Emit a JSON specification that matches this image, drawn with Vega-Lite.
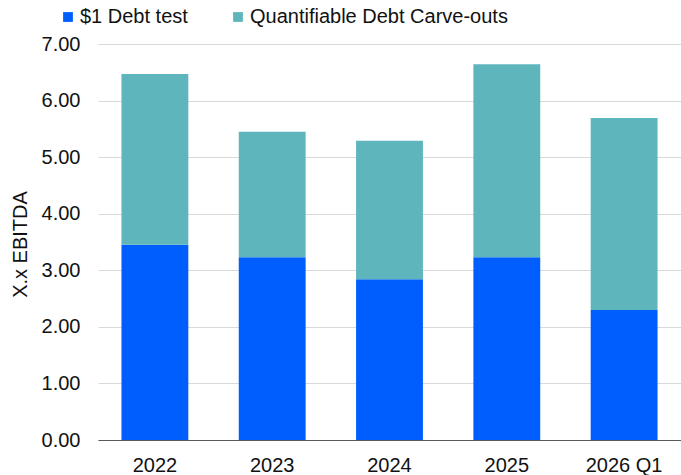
{
  "$schema": "https://vega.github.io/schema/vega-lite/v6.json",
  "width": 583,
  "height": 396,
  "autosize": {"type": "none"},
  "padding": {"left": 98, "top": 44, "right": 0, "bottom": 35},
  "background": "white",
  "config": {
    "view": {"stroke": null},
    "font": "Liberation Sans",
    "axis": {"labelFont": "Liberation Sans", "titleFont": "Liberation Sans"},
    "legend": {"labelFont": "Liberation Sans"}
  },
  "data": {
    "values": [
      {"period": "2022", "series": "$1 Debt test", "value": 3.45},
      {"period": "2022", "series": "Quantifiable Debt Carve-outs", "value": 3.02},
      {"period": "2023", "series": "$1 Debt test", "value": 3.23},
      {"period": "2023", "series": "Quantifiable Debt Carve-outs", "value": 2.22},
      {"period": "2024", "series": "$1 Debt test", "value": 2.84},
      {"period": "2024", "series": "Quantifiable Debt Carve-outs", "value": 2.45},
      {"period": "2025", "series": "$1 Debt test", "value": 3.23},
      {"period": "2025", "series": "Quantifiable Debt Carve-outs", "value": 3.41},
      {"period": "2026 Q1", "series": "$1 Debt test", "value": 2.30},
      {"period": "2026 Q1", "series": "Quantifiable Debt Carve-outs", "value": 3.39}
    ]
  },
  "mark": {"type": "bar"},
  "encoding": {
    "x": {
      "field": "period",
      "type": "nominal",
      "sort": null,
      "scale": {"paddingInner": 0.43, "paddingOuter": 0.2},
      "axis": {
        "title": null,
        "labelAngle": 0,
        "labelFontSize": 20,
        "labelColor": "#111111",
        "labelPadding": 31,
        "labelBaseline": "alphabetic",
        "ticks": false,
        "tickSize": 0,
        "domainColor": "#595959",
        "domainWidth": 1,
        "grid": false
      }
    },
    "y": {
      "field": "value",
      "type": "quantitative",
      "stack": "zero",
      "scale": {"domain": [0, 7], "nice": false},
      "axis": {
        "title": "X.x EBITDA",
        "titleFontSize": 20,
        "titleFontWeight": "normal",
        "titleColor": "#111111",
        "titleX": -72,
        "titleY": 200,
        "titleAlign": "center",
        "titleBaseline": "alphabetic",
        "titleAngle": -90,
        "values": [0, 1, 2, 3, 4, 5, 6, 7],
        "format": ".2f",
        "labelFontSize": 20,
        "labelColor": "#111111",
        "labelPadding": 18,
        "ticks": false,
        "tickSize": 0,
        "domain": false,
        "grid": true,
        "gridColor": "#D9D9D9",
        "gridWidth": 1
      }
    },
    "order": {"field": "series", "sort": "ascending"},
    "color": {
      "field": "series",
      "type": "nominal",
      "scale": {
        "domain": ["$1 Debt test", "Quantifiable Debt Carve-outs"],
        "range": ["#005EFF", "#5FB5BC"]
      },
      "legend": {
        "title": null,
        "orient": "none",
        "direction": "horizontal",
        "legendX": -40,
        "legendY": -37,
        "padding": 0,
        "symbolType": "square",
        "symbolSize": 96,
        "symbolStrokeWidth": 0,
        "labelFontSize": 20,
        "labelColor": "#111111",
        "labelOffset": 2,
        "labelLimit": 0,
        "columnPadding": 40
      }
    }
  }
}
